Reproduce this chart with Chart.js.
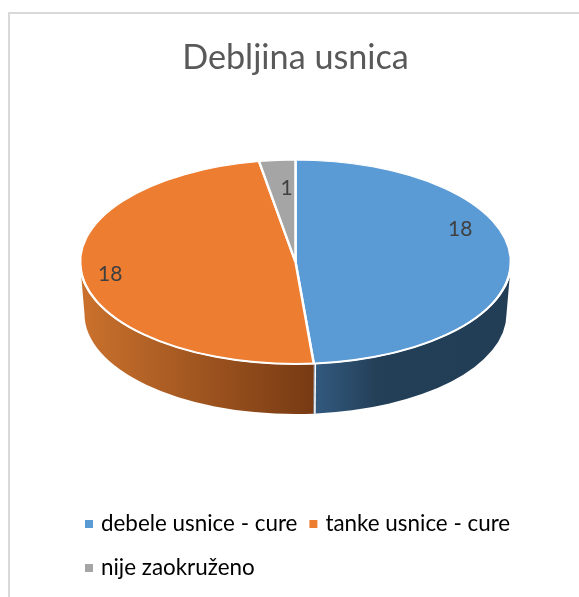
<!DOCTYPE html>
<html>
<head>
<meta charset="utf-8">
<style>html,body{margin:0;padding:0;background:#fff}#w{width:579px;height:597px;position:relative}</style>
<script src="https://cdn.jsdelivr.net/npm/chart.js@4/dist/chart.umd.min.js"></script>
</head>
<body>
<div id="w"><canvas id="c" width="579" height="597"></canvas></div>
<script>
const titleText = 'Debljina usnica';
const categories = ['debele usnice - cure', 'tanke usnice - cure', 'nije zaokruženo'];
const values = [18, 18, 1];
const sliceColors = ['#5B9BD5', '#ED7D31', '#A5A5A5'];
const sideStops = [
  [[0, '#335a80'], [0.33, '#233f57'], [1, '#223e56']],
  [[0, '#cb722d'], [1, '#773a13']],
  [[0, '#636363'], [1, '#636363']]
];
const labelPlacement = [[67, 0.83], [262, 0.868], [356.7, 0.726]];

const squash = 0.4733, topCy = 262, bottomCy = 314, bottomRx = 211, bottomRy = 100;
const fontFamily = 'Lato, "Open Sans", sans-serif';

const pie3d = {
  id: 'pie3d',
  beforeDraw(chart) {
    const { ctx } = chart;
    ctx.save();
    ctx.fillStyle = '#d9d9d9';
    ctx.fillRect(8, 12, 2, 585);
    ctx.fillRect(8, 12, 571, 2);
    ctx.restore();
  },
  beforeDatasetsDraw(chart) {
    const { ctx } = chart;
    const arcs = chart.getDatasetMeta(0).data;
    arcs.forEach((arc, i) => {
      const a0 = Math.max(arc.startAngle, 0), a1 = Math.min(arc.endAngle, Math.PI);
      if (a1 <= a0) return;
      const r = arc.outerRadius, cx = arc.x;
      const xs = [cx + r * Math.cos(a0), cx + r * Math.cos(a1)];
      const g = ctx.createLinearGradient(Math.min(...xs), 0, Math.max(...xs), 0);
      sideStops[i].forEach(([p, c]) => g.addColorStop(p, c));
      ctx.save();
      ctx.beginPath();
      ctx.ellipse(cx, topCy, r, r * squash, 0, a0, a1);
      ctx.ellipse(cx, bottomCy, bottomRx, bottomRy, 0, a1, a0, true);
      ctx.closePath();
      ctx.fillStyle = g;
      ctx.fill();
      ctx.restore();
    });
    // seam between the two visible side walls
    arcs.forEach((arc) => {
      const a = arc.endAngle;
      if (a > 0 && a < Math.PI) {
        ctx.save();
        ctx.strokeStyle = '#ffffff';
        ctx.lineWidth = 1.6;
        ctx.beginPath();
        ctx.moveTo(arc.x + arc.outerRadius * Math.cos(a) + 1.5, topCy + arc.outerRadius * squash * Math.sin(a));
        ctx.lineTo(arc.x + bottomRx * Math.cos(a) + 1.5, bottomCy + bottomRy * Math.sin(a));
        ctx.stroke();
        ctx.restore();
      }
    });
    const a = arcs[0];
    ctx.save();
    ctx.translate(a.x, topCy);
    ctx.scale(1, squash);
    ctx.translate(-a.x, -a.y);
  },
  afterDatasetsDraw(chart) {
    const { ctx } = chart;
    ctx.restore();
    const arcs = chart.getDatasetMeta(0).data;
    const first = arcs[0];
    ctx.save();
    ctx.strokeStyle = '#ffffff';
    ctx.lineWidth = 2;
    ctx.beginPath();
    ctx.ellipse(first.x, topCy, first.outerRadius, first.outerRadius * squash, 0, 0, Math.PI);
    ctx.stroke();
    ctx.font = '21px ' + fontFamily;
    ctx.fillStyle = '#404040';
    ctx.textAlign = 'center';
    ctx.textBaseline = 'middle';
    arcs.forEach((arc, i) => {
      const [deg, f] = labelPlacement[i];
      const t = deg * Math.PI / 180;
      const x = arc.x + arc.outerRadius * f * Math.sin(t);
      const y = topCy - arc.outerRadius * squash * f * Math.cos(t);
      ctx.fillText(String(values[i]), x, y);
    });
    ctx.restore();
  },
  afterDraw(chart) {
    const { ctx, legend } = chart;
    ctx.save();
    legend.legendHitBoxes.forEach((b, i) => {
      ctx.fillStyle = sliceColors[i];
      ctx.fillRect(b.left + 12, b.top + b.height / 2 - 4, 8, 8);
    });
    ctx.restore();
  }
};

new Chart(document.getElementById('c'), {
  type: 'pie',
  data: {
    labels: categories,
    datasets: [{
      data: values,
      backgroundColor: sliceColors,
      borderColor: '#ffffff',
      borderWidth: 2.5,
      clip: false
    }]
  },
  options: {
    responsive: false,
    animation: false,
    radius: 215.5,
    layout: { padding: { left: 73, right: 61, top: 0, bottom: -3 } },
    plugins: {
      tooltip: { enabled: false },
      title: {
        display: true,
        text: titleText,
        color: '#595959',
        font: { family: fontFamily, size: 34.2, weight: 'normal', lineHeight: 1.2 },
        padding: { top: 37, bottom: 10 }
      },
      legend: {
        display: true,
        position: 'bottom',
        align: 'start',
        labels: {
          color: '#595959',
          font: { family: fontFamily, size: 22.4 },
          boxWidth: 16.8,
          boxHeight: 44,
          padding: 0,
          generateLabels(chart) {
            return categories.map((t, i) => ({
              text: t, fillStyle: 'rgba(0,0,0,0)', strokeStyle: 'rgba(0,0,0,0)', lineWidth: 0, index: i, hidden: false
            }));
          }
        }
      }
    }
  },
  plugins: [pie3d]
});
</script>
</body>
</html>
